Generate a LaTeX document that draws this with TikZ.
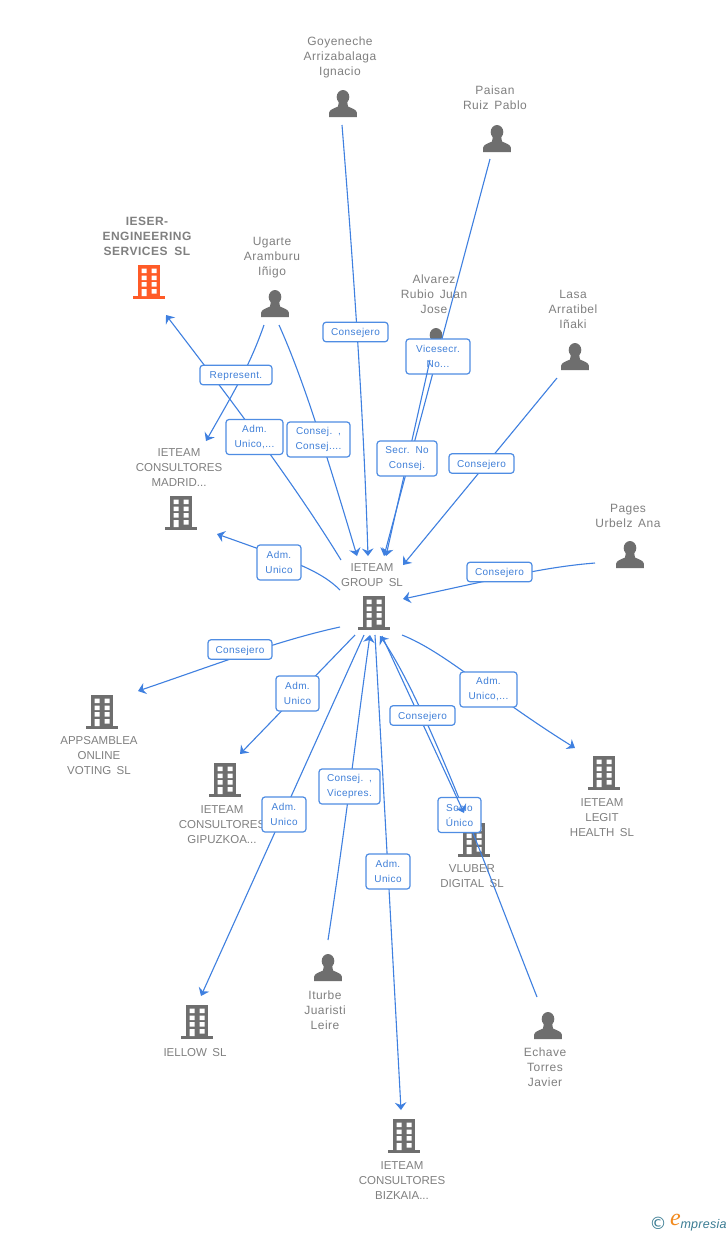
\documentclass[tikz,border=0pt]{standalone}
\usepackage{fontspec}
\usetikzlibrary{arrows.meta}
\newfontfamily\namefam[LetterSpace=4,WordSpace=1.5]{Liberation Sans}
\newfontfamily\capsfam[WordSpace=1.7]{Liberation Sans}
\newfontfamily\boldfam[LetterSpace=4,WordSpace=1.8]{Liberation Sans Bold}
\newfontfamily\logofam[LetterSpace=2]{Liberation Sans Italic}
\newfontfamily\logoe{Liberation Serif Italic}
\newfontfamily\dejavu{DejaVu Sans}
\definecolor{edgeblue}{HTML}{3F80E0}
\definecolor{boxblue}{HTML}{4F8DE3}
\definecolor{lbltext}{HTML}{3F7FD8}
\definecolor{nametext}{HTML}{808080}
\definecolor{icongrey}{HTML}{6E6E6E}
\definecolor{iconorange}{HTML}{FF5B27}
\definecolor{logoteal}{HTML}{3A7C93}
\definecolor{logoorange}{HTML}{F28A1E}
\tikzset{
  x=1pt,y=-1pt,
  >={Stealth[length=7.5pt,width=11.5pt,inset=2.5pt]},
  edge/.style={draw=edgeblue,line width=1.1pt,->},
  plainname/.style={inner sep=0pt,align=center,text=nametext,font=\namefam\fontsize{12}{15}\selectfont},
  capsname/.style={inner sep=0pt,align=center,text=nametext,font=\capsfam\fontsize{11.5}{15}\selectfont},
  boldname/.style={inner sep=0pt,align=center,text=nametext,font=\boldfam\fontsize{12}{15}\selectfont},
  lbl/.style={draw=boxblue,line width=1.2pt,fill=white,rounded corners=3pt,inner sep=0pt,align=center,
     text=lbltext,font=\namefam\fontsize{10}{15}\selectfont,minimum width=#1},
  lone/.style={lbl=#1,minimum height=19.5pt,text height=8pt,text depth=0.2pt},
  ltwo/.style={lbl=#1,minimum height=35pt},
  pics/bldg/.style={code={
    \fill[#1] (-11,0) rectangle (11,31);
    \fill[#1] (-16,31) rectangle (16,34);
    \fill[white] (-7.5,3.5) rectangle (-2.5,8) (2.5,3.5) rectangle (7.5,8)
                 (-7.5,10.5) rectangle (-2.5,15) (2.5,10.5) rectangle (7.5,15)
                 (-7.5,17) rectangle (-2.5,21.5) (2.5,17) rectangle (7.5,21.5)
                 (-7.5,24) rectangle (-2.5,31) (2.5,24) rectangle (7.5,28.5);
  }},
  pics/person/.style={code={
    \fill[icongrey] (0,7) ellipse [x radius=6.3,y radius=7];
    \fill[icongrey] (-13.8,27) -- (-13.8,22.5) .. controls (-13.5,19.5) and (-9,18.5) .. (-5,16.5)
       -- (-4,11) -- (4,11) -- (5,16.5) .. controls (9,18.5) and (13.5,19.5) .. (13.8,22.5) -- (13.8,27) -- cycle;
  }},
}
\begin{document}
\begin{tikzpicture}
\useasboundingbox (0,0) rectangle (728,1235);
\fill[white] (0,0) rectangle (728,1235);
% icons
\pic at (149,265) {bldg=iconorange};
\pic at (181,496) {bldg=icongrey};
\pic at (374,596) {bldg=icongrey};
\pic at (102,695) {bldg=icongrey};
\pic at (225,763) {bldg=icongrey};
\pic at (604,756) {bldg=icongrey};
\pic at (474,823) {bldg=icongrey};
\pic at (197,1005) {bldg=icongrey};
\pic at (404,1119) {bldg=icongrey};
\pic at (343,90) {person};
\pic at (497,125) {person};
\pic at (275,290) {person};
\pic at (436,328) {person};
\pic at (575,343) {person};
\pic at (630,541) {person};
\pic at (328,954) {person};
\pic at (548,1012) {person};
% names
\node[plainname] (goyeneche) at (340,57) {Goyeneche\\Arrizabalaga\\Ignacio};
\node[plainname] (paisan) at (495,97.5) {Paisan\\Ruiz Pablo};
\node[plainname] (ugarte) at (272,258) {Ugarte\\Aramburu\\Iñigo};
\node[plainname] (alvarez) at (434,294) {Alvarez\\Rubio Juan\\Jose};
\node[plainname] (lasa) at (573,309) {Lasa\\Arratibel\\Iñaki};
\node[plainname] (pages) at (628,515.5) {Pages\\Urbelz Ana};
\node[boldname] (ieser) at (147,236) {IESER-\\ENGINEERING\\SERVICES SL};
\node[capsname] (madrid) at (179,468) {IETEAM\\CONSULTORES\\MADRID...};
\node[capsname] (group) at (372,575.5) {IETEAM\\GROUP SL};
\node[capsname] (appsamblea) at (99,756) {APPSAMBLEA\\ONLINE\\VOTING SL};
\node[capsname] (gipuzkoa) at (222,825) {IETEAM\\CONSULTORES\\GIPUZKOA...};
\node[capsname] (legit) at (602,818) {IETEAM\\LEGIT\\HEALTH SL};
\node[capsname] (vluber) at (472,876.5) {VLUBER\\DIGITAL SL};
\node[capsname] (iellow) at (195,1053) {IELLOW SL};
\node[capsname] (bizkaia) at (402,1181) {IETEAM\\CONSULTORES\\BIZKAIA...};
\node[plainname] (iturbe) at (325,1010) {Iturbe\\Juaristi\\Leire};
\node[plainname] (echave) at (545,1067.5) {Echave\\Torres\\Javier};
% connector ends
\coordinate (gS) at (342,125);
\coordinate (gE) at (368,556);
\coordinate (pS) at (490,159);
\coordinate (pE) at (384,556);
\coordinate (aS) at (430,360);
\coordinate (aE) at (386,556);
\coordinate (lS) at (557,378);
\coordinate (lE) at (403,565);
\coordinate (paS) at (595,563);
\coordinate (paE) at (403,599);
\coordinate (u1S) at (279,325);
\coordinate (u1E) at (357,556);
\coordinate (u2S) at (264,325);
\coordinate (u2E) at (206,441);
\coordinate (iS) at (341,560);
\coordinate (iE) at (166,315);
\coordinate (mS) at (340,590);
\coordinate (mE) at (217,534);
\coordinate (cS) at (340,627);
\coordinate (cE) at (138,691);
\coordinate (giS) at (355,635);
\coordinate (giE) at (240,754);
\coordinate (elS) at (364,635);
\coordinate (elE) at (201,996);
\coordinate (tS) at (328,940);
\coordinate (tE) at (370,635);
\coordinate (bS) at (375,635);
\coordinate (bE) at (401,1110);
\coordinate (leS) at (402,635);
\coordinate (leE) at (575,748);
\coordinate (vS) at (382,636);
\coordinate (vE) at (464,813);
\coordinate (eS) at (537,997);
\coordinate (eE) at (380,636);
% connectors and their labels
\draw[edge] (gS) .. controls (356,300) and (364,430) .. (gE);
\node[lone=65pt] (l1) at (355.5,332) {Consejero};
\draw[edge] (pS) -- (pE);
\node[ltwo=64pt] (l2) at (438,356.5) {Vicesecr.\\No...};
\draw[edge] (aS) -- (aE);
\node[ltwo=60pt] (l3) at (407,458.5) {Secr. No\\Consej.};
\draw[edge] (lS) -- (lE);
\node[lone=65pt] (l4) at (481.5,463.5) {Consejero};
\draw[edge] (paS) .. controls (545,567) and (500,578) .. (paE);
\node[lone=65pt] (l5) at (499.5,572) {Consejero};
\draw[edge] (u1S) .. controls (300,372) and (320,432) .. (u1E);
\node[ltwo=63pt] (l6) at (318.5,439.5) {Consej. ,\\Consej....};
\draw[edge] (u2S) .. controls (250,365) and (235,390) .. (u2E);
\draw[edge] (iS) .. controls (295,485) and (235,405) .. (iE);
\node[lone=72pt] (l7) at (236,375) {Represent.};
\node[ltwo=57pt] (l8) at (254.5,437) {Adm.\\Unico,...};
\draw[edge] (mS) .. controls (320,570) and (290,560) .. (mE);
\node[ltwo=44pt] (l9) at (279,562.5) {Adm.\\Unico};
\draw[edge] (cS) .. controls (280,640) and (220,663) .. (cE);
\node[lone=64pt] (l10) at (240,649.5) {Consejero};
\draw[edge] (giS) -- (giE);
\node[ltwo=43pt] (l11) at (297.5,693.5) {Adm.\\Unico};
\draw[edge] (elS) -- (elE);
\node[ltwo=44pt] (l12) at (284,814.5) {Adm.\\Unico};
\draw[edge] (tS) .. controls (345,830) and (358,720) .. (tE);
\node[ltwo=61pt] (l13) at (349.5,786.5) {Consej. ,\\Vicepres.};
\draw[edge] (bS) .. controls (382,760) and (394,980) .. (bE);
\node[ltwo=44pt] (l14) at (388,871.5) {Adm.\\Unico};
\draw[edge] (leS) .. controls (445,652) and (490,695) .. (leE);
\node[ltwo=57pt] (l15) at (488.5,689.5) {Adm.\\Unico,...};
\draw[edge] (eS) .. controls (485,865) and (425,700) .. (eE);
\node[ltwo=43pt] (l16) at (459.5,815) {Socio\\Único};
\draw[edge] (vS) -- (vE);
\node[lone=65pt] (l17) at (422.5,715.5) {Consejero};
% logo
\node[inner sep=0pt,text=logoteal,font=\dejavu\fontsize{17}{17}\selectfont] (copy) at (658,1223.5) {©};
\node[inner sep=0pt,text=logoorange,font=\logoe\fontsize{24}{24}\selectfont] (elogo) at (675.5,1220) {e};
\node[inner sep=0pt,text=logoteal,font=\logofam\fontsize{12.5}{13}\selectfont] (mpresia) at (703.5,1225) {mpresia};
\end{tikzpicture}
\end{document}
